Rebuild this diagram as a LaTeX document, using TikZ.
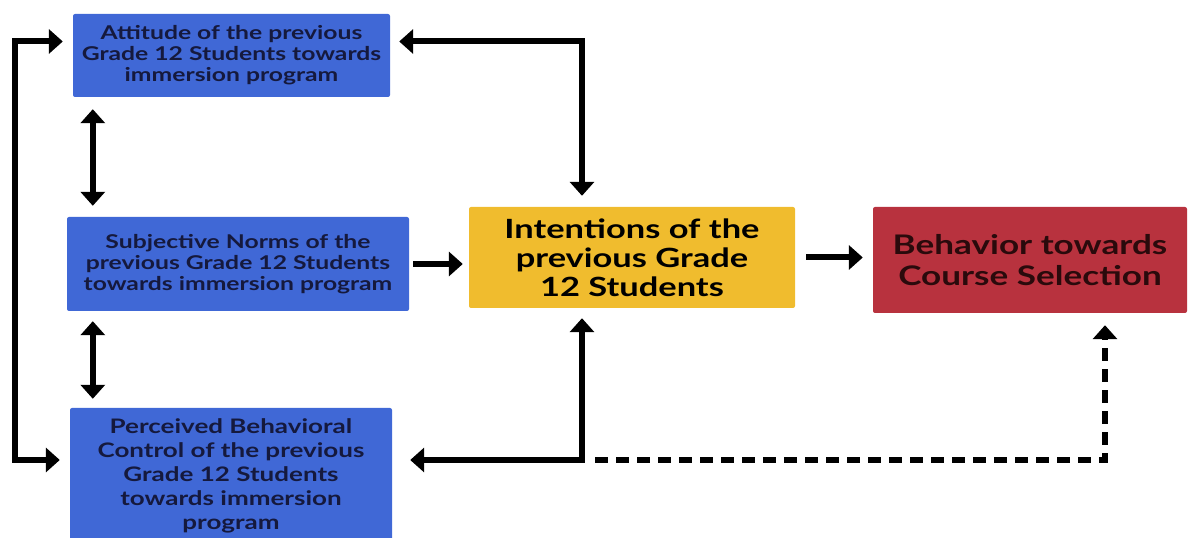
\documentclass[tikz,border=0pt]{standalone}
\usepackage{fontspec}
\setmainfont{Lato}[FakeStretch=1.3]
\usepackage{tikz}
\usetikzlibrary{arrows.meta}
\usetikzlibrary{calc}

\definecolor{boxblue}{HTML}{4068D6}
\definecolor{boxyellow}{HTML}{F0BC2E}
\definecolor{boxred}{HTML}{B8323E}
\definecolor{navytext}{HTML}{15193D}
\definecolor{redtext}{HTML}{2A0A0C}

\tikzset{
	factor/.style={draw=none, fill=boxblue, rounded corners=2pt, align=center,
		text=navytext, font=\fontsize{19}{21}\selectfont\bfseries, inner sep=0pt},
	link/.style={line width=6pt, -{Triangle[length=14pt,width=24pt]}},
	dbl/.style={line width=6pt, {Triangle[length=14pt,width=24pt]}-{Triangle[length=14pt,width=24pt]}}
}

\begin{document}
\begin{tikzpicture}[x=1pt,y=1pt]
\useasboundingbox (0,0) rectangle (1189,538);
\node[factor, minimum width=317pt, minimum height=83pt] (att) at (231.5,482.5)
	{Attitude of the previous\\Grade 12 Students towards\\immersion program};
\node[factor, minimum width=342pt, minimum height=94pt] (subj) at (238,274)
	{Subjective Norms of the\\previous Grade 12 Students\\towards immersion program};
\node[factor, font=\fontsize{20}{24}\selectfont\bfseries, minimum width=322pt, minimum height=136pt] (pbc) at (231,62)
	{Perceived Behavioral\\Control of the previous\\Grade 12 Students\\towards immersion\\program};
\node[fill=boxyellow, rounded corners=2pt, align=center, text=black,
	font=\fontsize{26.5}{29}\selectfont\bfseries, minimum width=326pt, minimum height=101pt, inner sep=0pt]
	(int) at (632,280.5) {Intentions of the\\previous Grade\\12 Students};
\node[fill=boxred, rounded corners=2pt, align=center, text=redtext,
	font=\fontsize{27}{31}\selectfont\bfseries, minimum width=314pt, minimum height=106pt, inner sep=0pt]
	(beh) at (1030,278) {Behavior towards\\Course Selection};

% left loop between attitude and control
\coordinate (attL) at ([yshift=14pt]att.west);
\coordinate (pbcL) at ([yshift=16pt]pbc.west);
\draw[dbl, shorten <=10pt, shorten >=10pt] (attL) -- ++(-58pt,0) |- (pbcL);

% attitude to intentions
\coordinate (attR) at ([yshift=14pt]att.east);
\draw[dbl, shorten <=9pt, shorten >=11pt] (attR) -| ([xshift=-50pt]int.north);

% vertical links
\coordinate (attS) at ([xshift=20pt]att.south west);
\draw[dbl, shorten <=12pt, shorten >=11pt] (attS) -- (attS |- subj.north);
\coordinate (subjS) at (attS |- subj.south);
\draw[dbl, shorten <=10pt, shorten >=9pt] (subjS) -- (subjS |- pbc.north);

% horizontal links
\draw[link, shorten <=4pt, shorten >=6pt] (subj.east) -- (subj.east -| int.west);
\draw[link, shorten <=11pt, shorten >=10pt] (int.east) -- (int.east -| beh.west);

% control and intentions
\coordinate (pbcR) at ([yshift=16pt]pbc.east);
\draw[dbl, line join=miter, shorten <=10pt, shorten >=18pt] ([xshift=-50pt]int.south) |- (pbcR);

% control to behavior (dashed)
\draw[link, dash pattern=on 13pt off 8pt, shorten <=203pt, shorten >=12pt] (pbcR) -| ([xshift=75pt]beh.south);
\end{tikzpicture}
\end{document}
